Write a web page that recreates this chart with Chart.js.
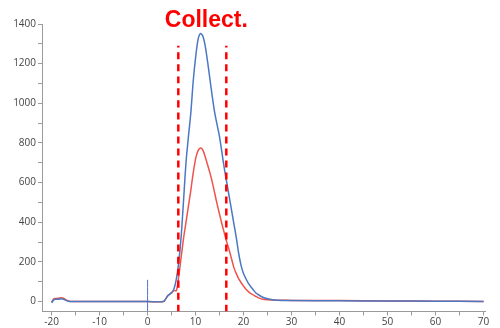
<!DOCTYPE html>
<html lang="en">
  <head>
    <meta charset="UTF-8" />
    <script src="https://cdn.jsdelivr.net/npm/chart.js@4.4.0/dist/chart.umd.min.js"></script>
    <title>Collect.</title>
    <style>
      html, body { margin: 0; padding: 0; background: #fff; }
      #wrap { width: 500px; height: 328px; position: relative; }
    </style>
  </head>
  <body>
    <div id="wrap">
      <canvas id="myChart"></canvas>
    </div>
    <script>
      // time axis (min) and the two traces
      const times = [-20, -19.5, -19, -18.5, -18, -17.5, -17, -16.5, -16, -10, 0, 3.3, 3.8, 4.3, 5, 5.5, 6, 6.5, 7, 7.5, 8, 8.5, 9, 9.5, 10, 10.5, 11, 11.5, 12, 12.5, 13, 13.5, 14, 14.5, 15, 15.5, 16, 16.5, 17, 17.5, 18, 18.5, 19, 19.5, 20, 20.5, 21, 21.5, 22, 22.5, 23, 24, 25, 26, 27, 28, 30, 40, 50, 60, 70];
      const blueSignal = [-6, 10, 12, 12, 14, 12, 6, 2, 1, 0, 0, 0, 15, 32, 45, 65, 115, 200, 330, 513, 700, 830, 950, 1110, 1230, 1320, 1352, 1340, 1290, 1210, 1120, 1030, 950, 890, 830, 750, 670, 600, 530, 460, 390, 320, 240, 180, 140, 115, 92, 75, 60, 45, 36, 22, 14, 9, 7, 6, 5, 4, 3, 2, 1];
      const redSignal = [-3, 15, 16, 17, 19, 17, 8, 3, 1, 0, 0, 0, 15, 32, 45, 55, 55, 130, 225, 320, 400, 480, 560, 648, 720, 760, 775, 765, 730, 690, 648, 600, 545, 490, 440, 390, 345, 300, 260, 215, 170, 140, 115, 95, 78, 62, 50, 40, 34, 27, 20, 12, 9, 8, 7, 7, 6, 5, 3, 2, 1];

      // fraction window and injection marker
      const collectStart = 6.4;
      const collectEnd = 16.4;
      const collectTop = 1290;
      const injectTime = 0;
      const injectTop = 110;

      const xTicks = [-20, -15, -10, -5, 0, 5, 10, 15, 20, 25, 30, 35, 40, 45, 50, 55, 60, 65, 70];
      const yTicks = [0, 100, 200, 300, 400, 500, 600, 700, 800, 900, 1000, 1100, 1200, 1300, 1400];

      const blue = "#4a78c2";
      const red = "#f0534c";
      const axisGray = "#9a9a9a";

      function toPoints(xs, ys) {
        var pts = [];
        for (var i = 0; i < xs.length; i++) pts.push({ x: xs[i], y: ys[i] });
        return pts;
      }

      const collectLabel = {
        id: "collectLabel",
        afterDraw(chart) {
          var ctx = chart.ctx;
          var xs = chart.scales.x;
          var cx = xs.getPixelForValue((collectStart + collectEnd) / 2) + 4;
          ctx.save();
          ctx.fillStyle = "#ff0000";
          ctx.font = "bold 23px 'Liberation Sans', Arial, sans-serif";
          ctx.textAlign = "center";
          ctx.textBaseline = "alphabetic";
          ctx.fillText("Collect.", cx, 27);
          ctx.restore();
        },
      };

      // datasets listed first are drawn on top
      var ctx = document.getElementById("myChart");
      new Chart(ctx, {
        type: "line",
        data: {
          datasets: [
            {
              data: [{ x: collectStart, y: -50 }, { x: collectStart, y: collectTop }],
              borderColor: "#ff0000", borderWidth: 2.5, borderDash: [7, 5],
            },
            {
              data: [{ x: collectEnd, y: -50 }, { x: collectEnd, y: collectTop }],
              borderColor: "#ff0000", borderWidth: 2.5, borderDash: [7, 5],
            },
            {
              data: [{ x: injectTime, y: -50 }, { x: injectTime, y: injectTop }],
              borderColor: blue, borderWidth: 1,
            },
            { data: toPoints(times, blueSignal), borderColor: blue, borderWidth: 1.5 },
            { data: toPoints(times, redSignal), borderColor: red, borderWidth: 1.5 },
          ],
        },
        options: {
          responsive: true,
          maintainAspectRatio: false,
          animation: false,
          layout: { padding: { top: 24, right: 15, left: 0, bottom: 0 } },
          elements: { point: { radius: 0 }, line: { tension: 0.3, fill: false } },
          plugins: { legend: { display: false }, tooltip: { enabled: false } },
          scales: {
            x: {
              type: "linear",
              min: -22,
              max: 70.3,
              afterBuildTicks: (s) => { s.ticks = xTicks.map((v) => ({ value: v })); },
              afterFit: (s) => { s.height = 16.5; },
              ticks: {
                autoSkip: false,
                maxRotation: 0,
                padding: 1,
                color: "#444",
                font: { family: "'Open Sans', sans-serif", size: 10 },
                callback: (v) => (v % 10 === 0 ? v : ""),
              },
              grid: { drawOnChartArea: false, tickLength: 4, color: axisGray },
              border: { color: axisGray },
            },
            y: {
              min: -50,
              max: 1400,
              afterBuildTicks: (s) => { s.ticks = yTicks.map((v) => ({ value: v })); },
              afterFit: (s) => { s.width = 42; },
              ticks: {
                autoSkip: false,
                padding: 2,
                color: "#444",
                font: { family: "'Open Sans', sans-serif", size: 10 },
                callback: (v) => (v % 200 === 0 ? v : ""),
              },
              grid: { drawOnChartArea: false, tickLength: 4, color: axisGray },
              border: { color: axisGray },
            },
          },
        },
        plugins: [collectLabel],
      });
    </script>
  </body>
</html>
